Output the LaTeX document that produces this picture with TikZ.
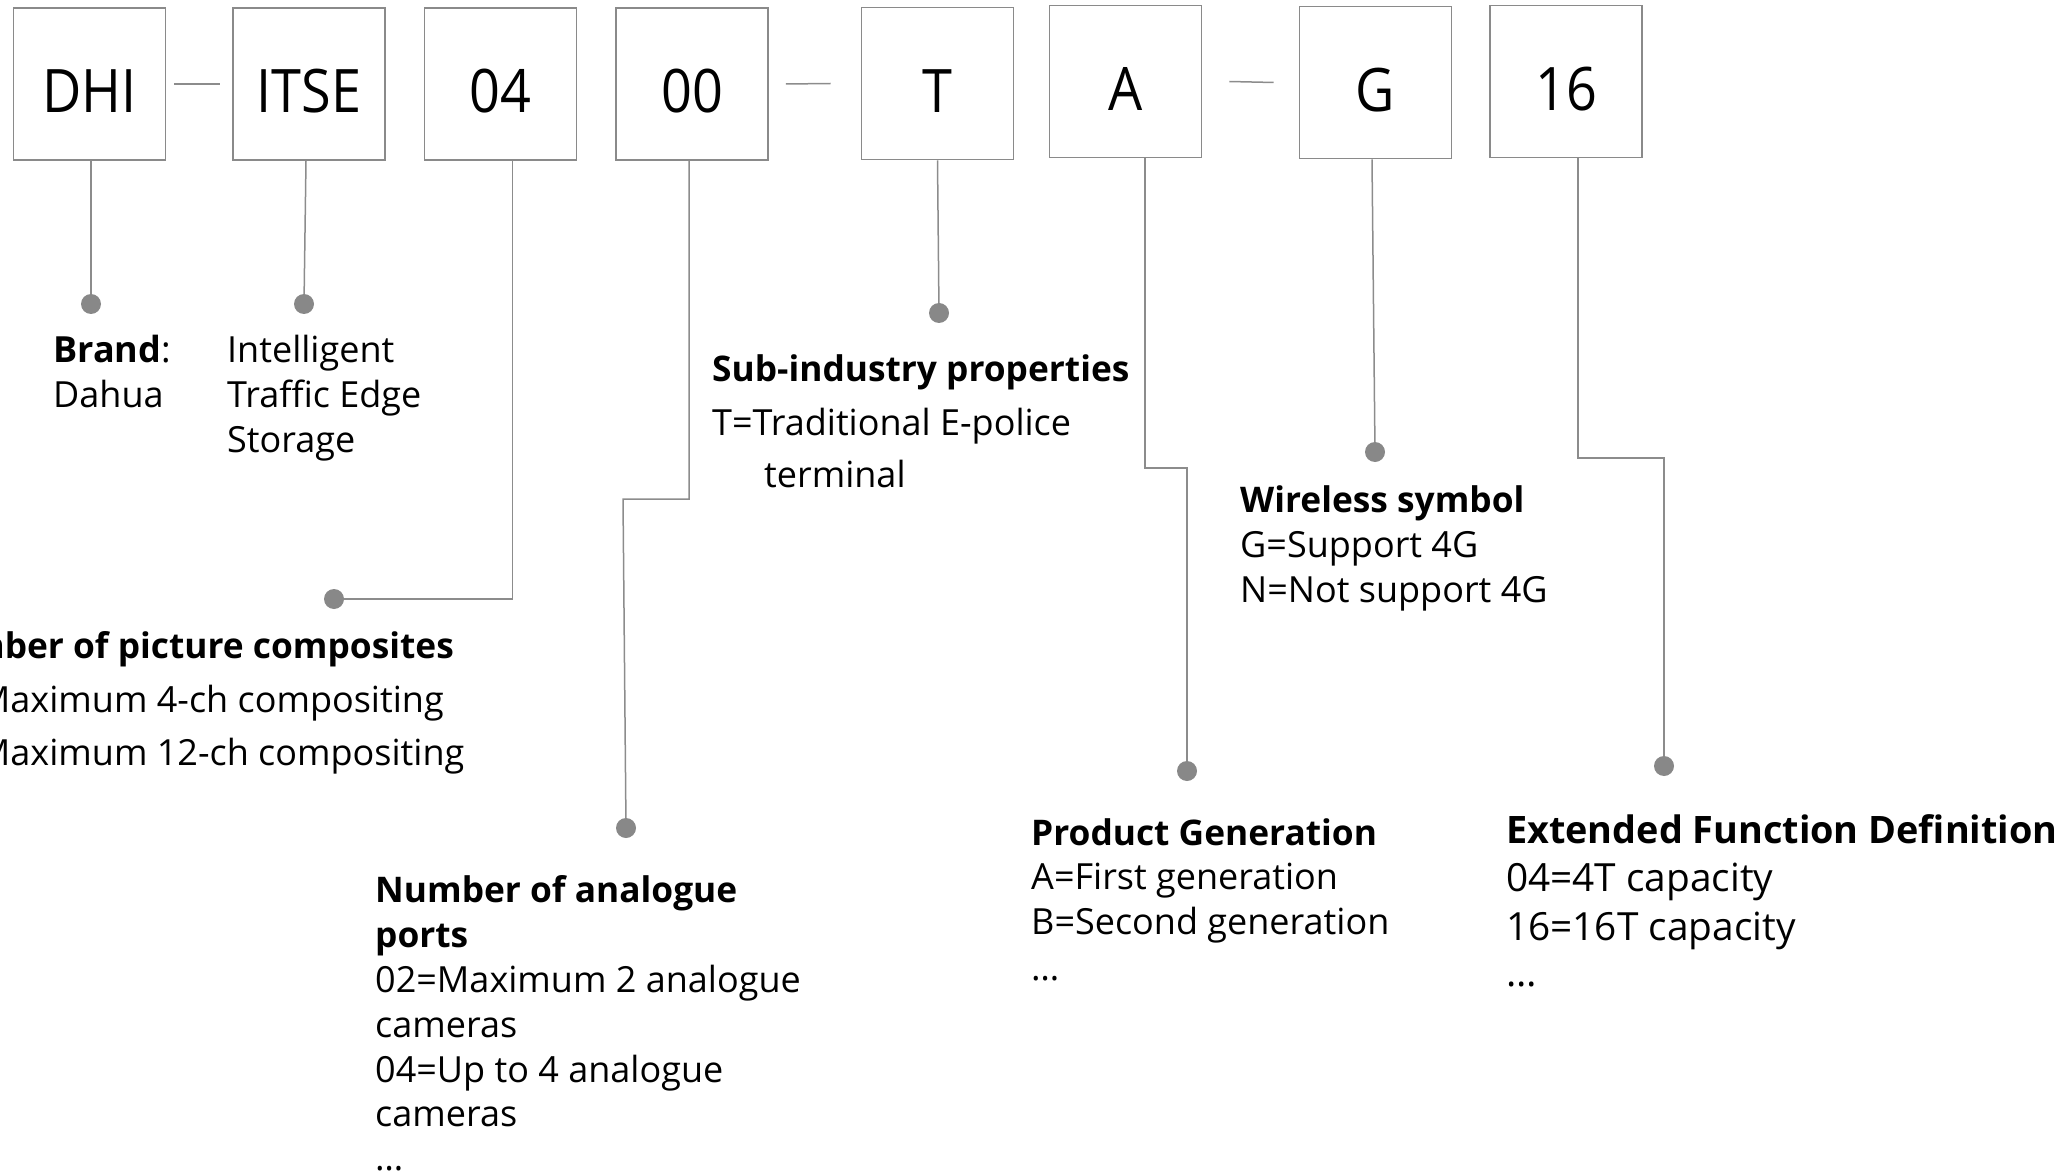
\documentclass[tikz,border=0pt]{standalone}
\usepackage{fontspec}
\setmainfont{Open Sans}
\newfontfamily\boxfont[FakeStretch=0.9]{Open Sans}
\definecolor{linegray}{RGB}{140,140,140}
\definecolor{boxgray}{RGB}{138,138,138}
\definecolor{dotgray}{RGB}{136,136,136}
\tikzset{
  codebox/.style={draw=boxgray, line width=1.6pt, fill=white, minimum width=152pt, minimum height=152pt,
    inner sep=0pt, text height=58pt, text depth=0pt, font=\boxfont\fontsize{60}{72}\selectfont},
  conn/.style={draw=linegray, line width=1.5pt},
  dotc/.style={circle, fill=dotgray, inner sep=0pt, minimum size=20pt},
  txt/.style={anchor=base west, inner sep=0pt, font=\fontsize{36}{42}\selectfont},
  ttl/.style={txt, font=\fontsize{35.3}{42}\selectfont\bfseries},
  bigtxt/.style={txt, font=\fontsize{38.8}{46}\selectfont},
  bigttl/.style={txt, font=\fontsize{37.8}{46}\selectfont\bfseries},
}
\newcommand\mytxt[4]{\node[txt] (#1) at (#2,#3) {#4};}
\newcommand\myttl[4]{\node[ttl] (#1) at (#2,#3) {#4};}
\begin{document}
\begin{tikzpicture}[x=1pt,y=-1pt]
\useasboundingbox (0,0) rectangle (2072,1174);
\clip (0,0) rectangle (2072,1174);
% code boxes
\node[codebox] (bDHI)  at (89.5,84)   {DHI};
\node[codebox] (bITSE) at (309,84)    {ITSE};
\node[codebox] (b04)   at (500.5,84)  {04};
\node[codebox] (b00)   at (692,84)    {00};
\node[codebox] (bT)    at (937.5,83.5){T};
\node[codebox] (bA)    at (1125.5,81.5){A};
\node[codebox] (bG)    at (1375.5,82.5){G};
\node[codebox] (b16)   at (1566,81.5) {16};
% dashes
\draw[conn] ([xshift=8pt]bDHI.east) -- ([xshift=-12pt]bITSE.west);
\draw[conn] ([xshift=17pt]b00.east) -- ([xshift=-30pt]bT.west);
\draw[conn] ([xshift=27pt]bA.east) -- ([xshift=-25pt]bG.west);
% dots
\node[dotc] (dDHI)  at (91,304) {};
\node[dotc] (dITSE) at (304,304) {};
\node[dotc] (d04)   at (334,599) {};
\node[dotc] (d00)   at (626,828) {};
\node[dotc] (dT)    at (939,313) {};
\node[dotc] (dA)    at (1187,771) {};
\node[dotc] (dG)    at (1375,452) {};
\node[dotc] (d16)   at (1664,766) {};
\coordinate (k00) at (623,499);
\coordinate (kA)  at (1187,468);
\coordinate (k16) at (1664,458);
% connectors
\draw[conn] ([xshift=1.5pt]bDHI.south) -- (dDHI);
\draw[conn] ([xshift=-3pt]bITSE.south) -- (dITSE);
\draw[conn] ([xshift=12pt]b04.south) |- (d04);
\draw[conn] ([xshift=-3pt]b00.south) |- (k00) -- (d00);
\draw[conn] (bT.south) -- (dT);
\draw[conn] ([xshift=19.5pt]bA.south) |- (kA) -- (dA);
\draw[conn] ([xshift=-3.5pt]bG.south) -- (dG);
\draw[conn] ([xshift=12pt]b16.south) |- (k16) -- (d16);
% texts
\mytxt{brand1}{53}{362}{\textbf{Brand}:}
\mytxt{brand2}{53}{407}{Dahua}
\mytxt{its1}{227}{362}{Intelligent}
\mytxt{its2}{227}{407}{Traffic Edge}
\mytxt{its3}{227}{452}{Storage}
\myttl{pc1}{-82}{658}{Number of picture composites}
\mytxt{pc2}{-84}{712}{04=Maximum 4-ch compositing}
\mytxt{pc3}{-84}{765}{12=Maximum 12-ch compositing}
\myttl{si1}{712}{381}{Sub-industry properties}
\mytxt{si2}{712}{435}{T=Traditional E-police}
\mytxt{si3}{764}{487}{terminal}
\myttl{ws1}{1240}{512}{Wireless symbol}
\mytxt{ws2}{1240}{557}{G=Support 4G}
\mytxt{ws3}{1240}{602}{N=Not support 4G}
\myttl{ap1}{375}{902}{Number of analogue}
\myttl{ap2}{375}{947}{ports}
\mytxt{ap3}{375}{992}{02=Maximum 2 analogue}
\mytxt{ap4}{375}{1037}{cameras}
\mytxt{ap5}{375}{1082}{04=Up to 4 analogue}
\mytxt{ap6}{375}{1126}{cameras}
\mytxt{ap7}{375}{1170}{…}
\myttl{pg1}{1031}{845}{Product Generation}
\mytxt{pg2}{1031}{889}{A=First generation}
\mytxt{pg3}{1031}{934}{B=Second generation}
\mytxt{pg4}{1031}{980}{…}
\node[bigttl] (ef1) at (1506,843) {Extended Function Definition};
\node[bigtxt] (ef2) at (1506,891) {04=4T capacity};
\node[bigtxt] (ef3) at (1506,940) {16=16T capacity};
\node[bigtxt] (ef4) at (1506,986) {…};
\end{tikzpicture}
\end{document}
